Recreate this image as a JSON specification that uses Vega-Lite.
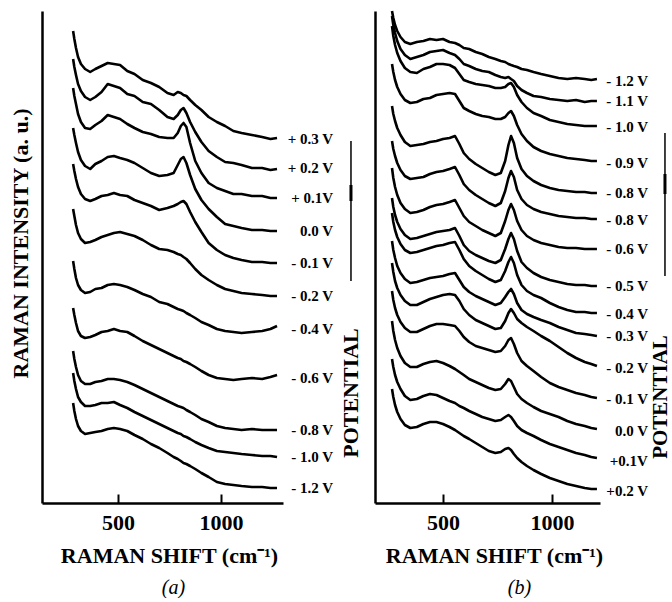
{
"$schema":"https://vega.github.io/schema/vega-lite/v6.json",
"padding":{"left":9,"top":9,"right":0,"bottom":0},
"bounds":"flush",
"spacing":92,
"config":{"view":{"stroke":null},
"axis":{"grid":false,"domainColor":"black","tickColor":"black","labelColor":"black","titleColor":"black","labelFont":"Liberation Serif","titleFont":"Liberation Serif","labelFontWeight":"bold","titleFontWeight":"bold"},
"text":{"font":"Liberation Serif","fontWeight":"bold","color":"black"},
"title":{"font":"Liberation Serif","fontStyle":"italic","fontWeight":"normal","fontSize":20,"color":"black"}},
"datasets":{
"a":[
{"s":1,"x":282,"y":472},{"s":1,"x":288,"y":464},{"s":1,"x":296,"y":455},{"s":1,"x":306,"y":446},{"s":1,"x":320,"y":439},{"s":1,"x":340,"y":434},{"s":1,"x":365,"y":431},{"s":1,"x":390,"y":434},{"s":1,"x":420,"y":437},{"s":1,"x":450,"y":440},{"s":1,"x":480,"y":439},{"s":1,"x":510,"y":438},{"s":1,"x":545,"y":432},{"s":1,"x":580,"y":429},{"s":1,"x":620,"y":423},{"s":1,"x":660,"y":420},{"s":1,"x":700,"y":416},{"s":1,"x":740,"y":410},{"s":1,"x":770,"y":408},{"s":1,"x":790,"y":411},{"s":1,"x":805,"y":410},{"s":1,"x":818,"y":408},{"s":1,"x":832,"y":407},{"s":1,"x":850,"y":403},{"s":1,"x":875,"y":398},{"s":1,"x":905,"y":393},{"s":1,"x":940,"y":386},{"s":1,"x":980,"y":381},{"s":1,"x":1020,"y":377},{"s":1,"x":1060,"y":372},{"s":1,"x":1100,"y":370},{"s":1,"x":1150,"y":368},{"s":1,"x":1200,"y":366},{"s":1,"x":1240,"y":364},{"s":1,"x":1272,"y":365},
{"s":2,"x":282,"y":444},{"s":2,"x":288,"y":436},{"s":2,"x":296,"y":428},{"s":2,"x":306,"y":419},{"s":2,"x":320,"y":412},{"s":2,"x":340,"y":406},{"s":2,"x":365,"y":403},{"s":2,"x":390,"y":406},{"s":2,"x":420,"y":411},{"s":2,"x":450,"y":419},{"s":2,"x":480,"y":417},{"s":2,"x":510,"y":415},{"s":2,"x":545,"y":409},{"s":2,"x":580,"y":407},{"s":2,"x":620,"y":401},{"s":2,"x":660,"y":399},{"s":2,"x":700,"y":393},{"s":2,"x":740,"y":386},{"s":2,"x":770,"y":384},{"s":2,"x":790,"y":388},{"s":2,"x":805,"y":393},{"s":2,"x":818,"y":395},{"s":2,"x":832,"y":390},{"s":2,"x":850,"y":381},{"s":2,"x":875,"y":371},{"s":2,"x":905,"y":361},{"s":2,"x":940,"y":352},{"s":2,"x":980,"y":346},{"s":2,"x":1020,"y":341},{"s":2,"x":1060,"y":340},{"s":2,"x":1100,"y":338},{"s":2,"x":1150,"y":335},{"s":2,"x":1200,"y":335},{"s":2,"x":1240,"y":333},{"s":2,"x":1272,"y":334},
{"s":3,"x":282,"y":415},{"s":3,"x":288,"y":407},{"s":3,"x":296,"y":399},{"s":3,"x":306,"y":389},{"s":3,"x":320,"y":381},{"s":3,"x":340,"y":375},{"s":3,"x":365,"y":374},{"s":3,"x":390,"y":378},{"s":3,"x":420,"y":382},{"s":3,"x":450,"y":388},{"s":3,"x":480,"y":386},{"s":3,"x":510,"y":384},{"s":3,"x":545,"y":379},{"s":3,"x":580,"y":375},{"s":3,"x":620,"y":371},{"s":3,"x":660,"y":369},{"s":3,"x":700,"y":366},{"s":3,"x":740,"y":365},{"s":3,"x":770,"y":365},{"s":3,"x":790,"y":370},{"s":3,"x":805,"y":377},{"s":3,"x":818,"y":380},{"s":3,"x":832,"y":376},{"s":3,"x":850,"y":360},{"s":3,"x":875,"y":342},{"s":3,"x":905,"y":330},{"s":3,"x":940,"y":320},{"s":3,"x":980,"y":315},{"s":3,"x":1020,"y":312},{"s":3,"x":1060,"y":309},{"s":3,"x":1100,"y":309},{"s":3,"x":1150,"y":307},{"s":3,"x":1200,"y":307},{"s":3,"x":1240,"y":305},{"s":3,"x":1272,"y":305},
{"s":4,"x":282,"y":375},{"s":4,"x":288,"y":368},{"s":4,"x":296,"y":360},{"s":4,"x":306,"y":351},{"s":4,"x":320,"y":343},{"s":4,"x":340,"y":337},{"s":4,"x":365,"y":334},{"s":4,"x":390,"y":339},{"s":4,"x":420,"y":342},{"s":4,"x":450,"y":346},{"s":4,"x":480,"y":347},{"s":4,"x":510,"y":345},{"s":4,"x":545,"y":343},{"s":4,"x":580,"y":340},{"s":4,"x":620,"y":335},{"s":4,"x":660,"y":330},{"s":4,"x":700,"y":327},{"s":4,"x":740,"y":328},{"s":4,"x":770,"y":330},{"s":4,"x":790,"y":338},{"s":4,"x":805,"y":344},{"s":4,"x":818,"y":346},{"s":4,"x":832,"y":340},{"s":4,"x":850,"y":328},{"s":4,"x":875,"y":314},{"s":4,"x":905,"y":303},{"s":4,"x":940,"y":294},{"s":4,"x":980,"y":286},{"s":4,"x":1020,"y":279},{"s":4,"x":1060,"y":277},{"s":4,"x":1100,"y":275},{"s":4,"x":1150,"y":273},{"s":4,"x":1200,"y":273},{"s":4,"x":1240,"y":272},{"s":4,"x":1272,"y":272},
{"s":5,"x":282,"y":339},{"s":5,"x":288,"y":332},{"s":5,"x":296,"y":324},{"s":5,"x":306,"y":316},{"s":5,"x":320,"y":309},{"s":5,"x":340,"y":304},{"s":5,"x":365,"y":302},{"s":5,"x":390,"y":304},{"s":5,"x":420,"y":307},{"s":5,"x":450,"y":308},{"s":5,"x":480,"y":310},{"s":5,"x":510,"y":308},{"s":5,"x":545,"y":307},{"s":5,"x":580,"y":303},{"s":5,"x":620,"y":300},{"s":5,"x":660,"y":297},{"s":5,"x":700,"y":293},{"s":5,"x":740,"y":295},{"s":5,"x":770,"y":297},{"s":5,"x":790,"y":299},{"s":5,"x":805,"y":301},{"s":5,"x":818,"y":302},{"s":5,"x":832,"y":299},{"s":5,"x":850,"y":291},{"s":5,"x":875,"y":281},{"s":5,"x":905,"y":271},{"s":5,"x":940,"y":260},{"s":5,"x":980,"y":253},{"s":5,"x":1020,"y":248},{"s":5,"x":1060,"y":245},{"s":5,"x":1100,"y":243},{"s":5,"x":1150,"y":241},{"s":5,"x":1200,"y":241},{"s":5,"x":1240,"y":240},{"s":5,"x":1272,"y":240},
{"s":6,"x":282,"y":294},{"s":6,"x":288,"y":287},{"s":6,"x":296,"y":278},{"s":6,"x":306,"y":270},{"s":6,"x":320,"y":264},{"s":6,"x":340,"y":260},{"s":6,"x":365,"y":261},{"s":6,"x":390,"y":263},{"s":6,"x":420,"y":266},{"s":6,"x":450,"y":268},{"s":6,"x":480,"y":270},{"s":6,"x":510,"y":271},{"s":6,"x":545,"y":269},{"s":6,"x":580,"y":267},{"s":6,"x":620,"y":263},{"s":6,"x":660,"y":258},{"s":6,"x":700,"y":254},{"s":6,"x":740,"y":253},{"s":6,"x":770,"y":251},{"s":6,"x":790,"y":249},{"s":6,"x":805,"y":248},{"s":6,"x":818,"y":246},{"s":6,"x":832,"y":244},{"s":6,"x":850,"y":240},{"s":6,"x":875,"y":234},{"s":6,"x":905,"y":228},{"s":6,"x":940,"y":223},{"s":6,"x":980,"y":218},{"s":6,"x":1020,"y":214},{"s":6,"x":1060,"y":212},{"s":6,"x":1100,"y":210},{"s":6,"x":1150,"y":209},{"s":6,"x":1200,"y":208},{"s":6,"x":1240,"y":207},{"s":6,"x":1272,"y":207},
{"s":7,"x":282,"y":242},{"s":7,"x":288,"y":234},{"s":7,"x":296,"y":225},{"s":7,"x":306,"y":218},{"s":7,"x":320,"y":213},{"s":7,"x":340,"y":210},{"s":7,"x":365,"y":211},{"s":7,"x":390,"y":214},{"s":7,"x":420,"y":215},{"s":7,"x":450,"y":218},{"s":7,"x":480,"y":219},{"s":7,"x":510,"y":218},{"s":7,"x":545,"y":216},{"s":7,"x":580,"y":213},{"s":7,"x":620,"y":209},{"s":7,"x":660,"y":206},{"s":7,"x":700,"y":201},{"s":7,"x":740,"y":199},{"s":7,"x":770,"y":196},{"s":7,"x":790,"y":194},{"s":7,"x":805,"y":193},{"s":7,"x":818,"y":192},{"s":7,"x":832,"y":190},{"s":7,"x":850,"y":188},{"s":7,"x":875,"y":185},{"s":7,"x":905,"y":181},{"s":7,"x":940,"y":178},{"s":7,"x":980,"y":174},{"s":7,"x":1020,"y":172},{"s":7,"x":1060,"y":171},{"s":7,"x":1100,"y":170},{"s":7,"x":1150,"y":171},{"s":7,"x":1200,"y":172},{"s":7,"x":1240,"y":174},{"s":7,"x":1272,"y":177},
{"s":8,"x":282,"y":195},{"s":8,"x":288,"y":188},{"s":8,"x":296,"y":180},{"s":8,"x":306,"y":172},{"s":8,"x":320,"y":167},{"s":8,"x":340,"y":165},{"s":8,"x":365,"y":166},{"s":8,"x":390,"y":168},{"s":8,"x":420,"y":171},{"s":8,"x":450,"y":172},{"s":8,"x":480,"y":174},{"s":8,"x":510,"y":172},{"s":8,"x":545,"y":171},{"s":8,"x":580,"y":167},{"s":8,"x":620,"y":162},{"s":8,"x":660,"y":158},{"s":8,"x":700,"y":154},{"s":8,"x":740,"y":150},{"s":8,"x":770,"y":147},{"s":8,"x":790,"y":145},{"s":8,"x":805,"y":144},{"s":8,"x":818,"y":142},{"s":8,"x":832,"y":141},{"s":8,"x":850,"y":139},{"s":8,"x":875,"y":136},{"s":8,"x":905,"y":132},{"s":8,"x":940,"y":128},{"s":8,"x":980,"y":125},{"s":8,"x":1020,"y":124},{"s":8,"x":1060,"y":123},{"s":8,"x":1100,"y":124},{"s":8,"x":1150,"y":125},{"s":8,"x":1200,"y":124},{"s":8,"x":1240,"y":126},{"s":8,"x":1272,"y":128},
{"s":9,"x":282,"y":152},{"s":9,"x":288,"y":144},{"s":9,"x":296,"y":136},{"s":9,"x":306,"y":128},{"s":9,"x":320,"y":122},{"s":9,"x":340,"y":119},{"s":9,"x":365,"y":119},{"s":9,"x":390,"y":121},{"s":9,"x":420,"y":122},{"s":9,"x":450,"y":124},{"s":9,"x":480,"y":124},{"s":9,"x":510,"y":123},{"s":9,"x":545,"y":121},{"s":9,"x":580,"y":118},{"s":9,"x":620,"y":114},{"s":9,"x":660,"y":110},{"s":9,"x":700,"y":106},{"s":9,"x":740,"y":102},{"s":9,"x":770,"y":99},{"s":9,"x":790,"y":97},{"s":9,"x":805,"y":96},{"s":9,"x":818,"y":95},{"s":9,"x":832,"y":93},{"s":9,"x":850,"y":91},{"s":9,"x":875,"y":88},{"s":9,"x":905,"y":84},{"s":9,"x":940,"y":81},{"s":9,"x":980,"y":77},{"s":9,"x":1020,"y":75},{"s":9,"x":1060,"y":74},{"s":9,"x":1100,"y":73},{"s":9,"x":1150,"y":74},{"s":9,"x":1200,"y":73},{"s":9,"x":1240,"y":73},{"s":9,"x":1272,"y":73},
{"s":10,"x":282,"y":130},{"s":10,"x":288,"y":122},{"s":10,"x":296,"y":114},{"s":10,"x":306,"y":106},{"s":10,"x":320,"y":101},{"s":10,"x":340,"y":97},{"s":10,"x":365,"y":97},{"s":10,"x":390,"y":98},{"s":10,"x":420,"y":100},{"s":10,"x":450,"y":100},{"s":10,"x":480,"y":101},{"s":10,"x":510,"y":98},{"s":10,"x":545,"y":95},{"s":10,"x":580,"y":91},{"s":10,"x":620,"y":87},{"s":10,"x":660,"y":83},{"s":10,"x":700,"y":79},{"s":10,"x":740,"y":75},{"s":10,"x":770,"y":72},{"s":10,"x":790,"y":70},{"s":10,"x":805,"y":69},{"s":10,"x":818,"y":67},{"s":10,"x":832,"y":66},{"s":10,"x":850,"y":64},{"s":10,"x":875,"y":61},{"s":10,"x":905,"y":58},{"s":10,"x":940,"y":55},{"s":10,"x":980,"y":52},{"s":10,"x":1020,"y":51},{"s":10,"x":1060,"y":50},{"s":10,"x":1100,"y":49},{"s":10,"x":1150,"y":48},{"s":10,"x":1200,"y":47},{"s":10,"x":1240,"y":47},{"s":10,"x":1272,"y":46},
{"s":11,"x":282,"y":100},{"s":11,"x":288,"y":92},{"s":11,"x":296,"y":84},{"s":11,"x":306,"y":77},{"s":11,"x":320,"y":72},{"s":11,"x":340,"y":69},{"s":11,"x":365,"y":70},{"s":11,"x":390,"y":71},{"s":11,"x":420,"y":72},{"s":11,"x":450,"y":74},{"s":11,"x":480,"y":75},{"s":11,"x":510,"y":74},{"s":11,"x":545,"y":72},{"s":11,"x":580,"y":68},{"s":11,"x":620,"y":64},{"s":11,"x":660,"y":59},{"s":11,"x":700,"y":55},{"s":11,"x":740,"y":50},{"s":11,"x":770,"y":46},{"s":11,"x":790,"y":44},{"s":11,"x":805,"y":42},{"s":11,"x":818,"y":40},{"s":11,"x":832,"y":39},{"s":11,"x":850,"y":37},{"s":11,"x":875,"y":34},{"s":11,"x":905,"y":30},{"s":11,"x":940,"y":26},{"s":11,"x":980,"y":21},{"s":11,"x":1020,"y":19},{"s":11,"x":1060,"y":18},{"s":11,"x":1100,"y":17},{"s":11,"x":1150,"y":16},{"s":11,"x":1200,"y":16},{"s":11,"x":1240,"y":15},{"s":11,"x":1272,"y":15}
],
"b":[
{"s":1,"x":266,"y":492},{"s":1,"x":272,"y":485},{"s":1,"x":280,"y":478},{"s":1,"x":290,"y":472},{"s":1,"x":305,"y":466},{"s":1,"x":325,"y":461},{"s":1,"x":350,"y":459},{"s":1,"x":380,"y":461},{"s":1,"x":410,"y":462},{"s":1,"x":440,"y":464},{"s":1,"x":470,"y":463},{"s":1,"x":500,"y":464},{"s":1,"x":530,"y":461},{"s":1,"x":555,"y":460},{"s":1,"x":575,"y":458},{"s":1,"x":595,"y":455},{"s":1,"x":620,"y":454},{"s":1,"x":650,"y":451},{"s":1,"x":680,"y":449},{"s":1,"x":710,"y":446},{"s":1,"x":740,"y":444},{"s":1,"x":765,"y":442},{"s":1,"x":785,"y":441},{"s":1,"x":800,"y":439},{"s":1,"x":812,"y":438},{"s":1,"x":825,"y":437},{"s":1,"x":840,"y":436},{"s":1,"x":860,"y":434},{"s":1,"x":885,"y":433},{"s":1,"x":915,"y":431},{"s":1,"x":950,"y":429},{"s":1,"x":990,"y":427},{"s":1,"x":1030,"y":425},{"s":1,"x":1070,"y":424},{"s":1,"x":1110,"y":425},{"s":1,"x":1150,"y":424},{"s":1,"x":1180,"y":423},{"s":1,"x":1206,"y":424},
{"s":2,"x":266,"y":487},{"s":2,"x":272,"y":478},{"s":2,"x":280,"y":470},{"s":2,"x":290,"y":462},{"s":2,"x":305,"y":454},{"s":2,"x":325,"y":448},{"s":2,"x":350,"y":444},{"s":2,"x":380,"y":446},{"s":2,"x":410,"y":448},{"s":2,"x":440,"y":451},{"s":2,"x":470,"y":452},{"s":2,"x":500,"y":453},{"s":2,"x":530,"y":450},{"s":2,"x":555,"y":448},{"s":2,"x":575,"y":444},{"s":2,"x":595,"y":439},{"s":2,"x":620,"y":437},{"s":2,"x":650,"y":434},{"s":2,"x":680,"y":432},{"s":2,"x":710,"y":431},{"s":2,"x":740,"y":428},{"s":2,"x":765,"y":426},{"s":2,"x":785,"y":425},{"s":2,"x":800,"y":426},{"s":2,"x":812,"y":424},{"s":2,"x":825,"y":422},{"s":2,"x":840,"y":417},{"s":2,"x":860,"y":413},{"s":2,"x":885,"y":410},{"s":2,"x":915,"y":407},{"s":2,"x":950,"y":406},{"s":2,"x":990,"y":404},{"s":2,"x":1030,"y":403},{"s":2,"x":1070,"y":402},{"s":2,"x":1110,"y":403},{"s":2,"x":1150,"y":401},{"s":2,"x":1180,"y":402},{"s":2,"x":1206,"y":402},
{"s":3,"x":266,"y":477},{"s":3,"x":272,"y":467},{"s":3,"x":280,"y":458},{"s":3,"x":290,"y":450},{"s":3,"x":305,"y":442},{"s":3,"x":325,"y":435},{"s":3,"x":350,"y":431},{"s":3,"x":380,"y":430},{"s":3,"x":410,"y":434},{"s":3,"x":440,"y":436},{"s":3,"x":470,"y":439},{"s":3,"x":500,"y":439},{"s":3,"x":530,"y":438},{"s":3,"x":555,"y":435},{"s":3,"x":575,"y":429},{"s":3,"x":595,"y":423},{"s":3,"x":620,"y":421},{"s":3,"x":650,"y":419},{"s":3,"x":680,"y":418},{"s":3,"x":710,"y":417},{"s":3,"x":740,"y":415},{"s":3,"x":765,"y":415},{"s":3,"x":785,"y":416},{"s":3,"x":800,"y":419},{"s":3,"x":812,"y":420},{"s":3,"x":825,"y":416},{"s":3,"x":840,"y":408},{"s":3,"x":860,"y":401},{"s":3,"x":885,"y":395},{"s":3,"x":915,"y":390},{"s":3,"x":950,"y":387},{"s":3,"x":990,"y":383},{"s":3,"x":1030,"y":381},{"s":3,"x":1070,"y":379},{"s":3,"x":1110,"y":378},{"s":3,"x":1150,"y":377},{"s":3,"x":1180,"y":377},{"s":3,"x":1206,"y":377},
{"s":4,"x":266,"y":439},{"s":4,"x":272,"y":431},{"s":4,"x":280,"y":423},{"s":4,"x":290,"y":416},{"s":4,"x":305,"y":409},{"s":4,"x":325,"y":403},{"s":4,"x":350,"y":400},{"s":4,"x":380,"y":401},{"s":4,"x":410,"y":404},{"s":4,"x":440,"y":405},{"s":4,"x":470,"y":408},{"s":4,"x":500,"y":409},{"s":4,"x":530,"y":410},{"s":4,"x":555,"y":409},{"s":4,"x":575,"y":402},{"s":4,"x":595,"y":395},{"s":4,"x":620,"y":392},{"s":4,"x":650,"y":389},{"s":4,"x":680,"y":387},{"s":4,"x":710,"y":386},{"s":4,"x":740,"y":384},{"s":4,"x":765,"y":384},{"s":4,"x":785,"y":386},{"s":4,"x":800,"y":390},{"s":4,"x":812,"y":392},{"s":4,"x":825,"y":387},{"s":4,"x":840,"y":378},{"s":4,"x":860,"y":369},{"s":4,"x":885,"y":362},{"s":4,"x":915,"y":356},{"s":4,"x":950,"y":352},{"s":4,"x":990,"y":349},{"s":4,"x":1030,"y":347},{"s":4,"x":1070,"y":345},{"s":4,"x":1110,"y":344},{"s":4,"x":1150,"y":343},{"s":4,"x":1180,"y":342},{"s":4,"x":1206,"y":342},
{"s":5,"x":266,"y":397},{"s":5,"x":272,"y":389},{"s":5,"x":280,"y":382},{"s":5,"x":290,"y":375},{"s":5,"x":305,"y":368},{"s":5,"x":325,"y":361},{"s":5,"x":350,"y":357},{"s":5,"x":380,"y":358},{"s":5,"x":410,"y":359},{"s":5,"x":440,"y":361},{"s":5,"x":470,"y":362},{"s":5,"x":500,"y":364},{"s":5,"x":530,"y":365},{"s":5,"x":555,"y":367},{"s":5,"x":575,"y":359},{"s":5,"x":595,"y":350},{"s":5,"x":620,"y":344},{"s":5,"x":650,"y":339},{"s":5,"x":680,"y":335},{"s":5,"x":710,"y":331},{"s":5,"x":740,"y":328},{"s":5,"x":765,"y":330},{"s":5,"x":785,"y":342},{"s":5,"x":800,"y":358},{"s":5,"x":812,"y":367},{"s":5,"x":825,"y":360},{"s":5,"x":840,"y":345},{"s":5,"x":860,"y":334},{"s":5,"x":885,"y":327},{"s":5,"x":915,"y":322},{"s":5,"x":950,"y":318},{"s":5,"x":990,"y":315},{"s":5,"x":1030,"y":313},{"s":5,"x":1070,"y":312},{"s":5,"x":1110,"y":311},{"s":5,"x":1150,"y":311},{"s":5,"x":1180,"y":310},{"s":5,"x":1206,"y":310},
{"s":6,"x":266,"y":362},{"s":6,"x":272,"y":354},{"s":6,"x":280,"y":347},{"s":6,"x":290,"y":340},{"s":6,"x":305,"y":333},{"s":6,"x":325,"y":327},{"s":6,"x":350,"y":324},{"s":6,"x":380,"y":325},{"s":6,"x":410,"y":326},{"s":6,"x":440,"y":329},{"s":6,"x":470,"y":331},{"s":6,"x":500,"y":332},{"s":6,"x":530,"y":334},{"s":6,"x":555,"y":336},{"s":6,"x":575,"y":328},{"s":6,"x":595,"y":319},{"s":6,"x":620,"y":313},{"s":6,"x":650,"y":308},{"s":6,"x":680,"y":304},{"s":6,"x":710,"y":300},{"s":6,"x":740,"y":297},{"s":6,"x":765,"y":300},{"s":6,"x":785,"y":312},{"s":6,"x":800,"y":325},{"s":6,"x":812,"y":332},{"s":6,"x":825,"y":326},{"s":6,"x":840,"y":313},{"s":6,"x":860,"y":304},{"s":6,"x":885,"y":298},{"s":6,"x":915,"y":294},{"s":6,"x":950,"y":291},{"s":6,"x":990,"y":289},{"s":6,"x":1030,"y":287},{"s":6,"x":1070,"y":286},{"s":6,"x":1110,"y":285},{"s":6,"x":1150,"y":285},{"s":6,"x":1180,"y":284},{"s":6,"x":1206,"y":284},
{"s":7,"x":266,"y":335},{"s":7,"x":272,"y":325},{"s":7,"x":280,"y":316},{"s":7,"x":290,"y":308},{"s":7,"x":305,"y":300},{"s":7,"x":325,"y":294},{"s":7,"x":350,"y":290},{"s":7,"x":380,"y":291},{"s":7,"x":410,"y":293},{"s":7,"x":440,"y":296},{"s":7,"x":470,"y":298},{"s":7,"x":500,"y":299},{"s":7,"x":530,"y":301},{"s":7,"x":555,"y":303},{"s":7,"x":575,"y":295},{"s":7,"x":595,"y":287},{"s":7,"x":620,"y":281},{"s":7,"x":650,"y":277},{"s":7,"x":680,"y":273},{"s":7,"x":710,"y":270},{"s":7,"x":740,"y":267},{"s":7,"x":765,"y":270},{"s":7,"x":785,"y":282},{"s":7,"x":800,"y":293},{"s":7,"x":812,"y":299},{"s":7,"x":825,"y":293},{"s":7,"x":840,"y":282},{"s":7,"x":860,"y":273},{"s":7,"x":885,"y":267},{"s":7,"x":915,"y":263},{"s":7,"x":950,"y":260},{"s":7,"x":990,"y":258},{"s":7,"x":1030,"y":256},{"s":7,"x":1070,"y":255},{"s":7,"x":1110,"y":255},{"s":7,"x":1150,"y":254},{"s":7,"x":1180,"y":254},{"s":7,"x":1206,"y":254},
{"s":8,"x":266,"y":305},{"s":8,"x":272,"y":296},{"s":8,"x":280,"y":288},{"s":8,"x":290,"y":281},{"s":8,"x":305,"y":274},{"s":8,"x":325,"y":268},{"s":8,"x":350,"y":264},{"s":8,"x":380,"y":265},{"s":8,"x":410,"y":267},{"s":8,"x":440,"y":269},{"s":8,"x":470,"y":271},{"s":8,"x":500,"y":272},{"s":8,"x":530,"y":273},{"s":8,"x":555,"y":275},{"s":8,"x":575,"y":267},{"s":8,"x":595,"y":258},{"s":8,"x":620,"y":252},{"s":8,"x":650,"y":248},{"s":8,"x":680,"y":245},{"s":8,"x":710,"y":242},{"s":8,"x":740,"y":240},{"s":8,"x":765,"y":243},{"s":8,"x":785,"y":254},{"s":8,"x":800,"y":264},{"s":8,"x":812,"y":270},{"s":8,"x":825,"y":264},{"s":8,"x":840,"y":252},{"s":8,"x":860,"y":241},{"s":8,"x":885,"y":235},{"s":8,"x":915,"y":230},{"s":8,"x":950,"y":226},{"s":8,"x":990,"y":223},{"s":8,"x":1030,"y":221},{"s":8,"x":1070,"y":219},{"s":8,"x":1110,"y":218},{"s":8,"x":1150,"y":218},{"s":8,"x":1180,"y":217},{"s":8,"x":1206,"y":217},
{"s":9,"x":266,"y":290},{"s":9,"x":272,"y":281},{"s":9,"x":280,"y":273},{"s":9,"x":290,"y":266},{"s":9,"x":305,"y":259},{"s":9,"x":325,"y":253},{"s":9,"x":350,"y":250},{"s":9,"x":380,"y":251},{"s":9,"x":410,"y":253},{"s":9,"x":440,"y":255},{"s":9,"x":470,"y":257},{"s":9,"x":500,"y":258},{"s":9,"x":530,"y":260},{"s":9,"x":555,"y":261},{"s":9,"x":575,"y":253},{"s":9,"x":595,"y":244},{"s":9,"x":620,"y":237},{"s":9,"x":650,"y":232},{"s":9,"x":680,"y":228},{"s":9,"x":710,"y":224},{"s":9,"x":740,"y":221},{"s":9,"x":765,"y":223},{"s":9,"x":785,"y":232},{"s":9,"x":800,"y":241},{"s":9,"x":812,"y":246},{"s":9,"x":825,"y":240},{"s":9,"x":840,"y":228},{"s":9,"x":860,"y":218},{"s":9,"x":885,"y":212},{"s":9,"x":915,"y":208},{"s":9,"x":950,"y":205},{"s":9,"x":990,"y":200},{"s":9,"x":1030,"y":196},{"s":9,"x":1070,"y":193},{"s":9,"x":1110,"y":191},{"s":9,"x":1150,"y":191},{"s":9,"x":1180,"y":190},{"s":9,"x":1206,"y":190},
{"s":10,"x":266,"y":262},{"s":10,"x":272,"y":253},{"s":10,"x":280,"y":245},{"s":10,"x":290,"y":237},{"s":10,"x":305,"y":230},{"s":10,"x":325,"y":224},{"s":10,"x":350,"y":220},{"s":10,"x":380,"y":221},{"s":10,"x":410,"y":223},{"s":10,"x":440,"y":225},{"s":10,"x":470,"y":226},{"s":10,"x":500,"y":227},{"s":10,"x":530,"y":229},{"s":10,"x":555,"y":230},{"s":10,"x":575,"y":223},{"s":10,"x":595,"y":216},{"s":10,"x":620,"y":211},{"s":10,"x":650,"y":207},{"s":10,"x":680,"y":204},{"s":10,"x":710,"y":201},{"s":10,"x":740,"y":198},{"s":10,"x":765,"y":200},{"s":10,"x":785,"y":206},{"s":10,"x":800,"y":211},{"s":10,"x":812,"y":214},{"s":10,"x":825,"y":209},{"s":10,"x":840,"y":200},{"s":10,"x":860,"y":193},{"s":10,"x":885,"y":189},{"s":10,"x":915,"y":186},{"s":10,"x":950,"y":183},{"s":10,"x":990,"y":180},{"s":10,"x":1030,"y":176},{"s":10,"x":1070,"y":173},{"s":10,"x":1110,"y":170},{"s":10,"x":1150,"y":169},{"s":10,"x":1180,"y":168},{"s":10,"x":1206,"y":167},
{"s":11,"x":266,"y":240},{"s":11,"x":272,"y":231},{"s":11,"x":280,"y":222},{"s":11,"x":290,"y":215},{"s":11,"x":305,"y":208},{"s":11,"x":325,"y":202},{"s":11,"x":350,"y":198},{"s":11,"x":380,"y":198},{"s":11,"x":410,"y":201},{"s":11,"x":440,"y":204},{"s":11,"x":470,"y":206},{"s":11,"x":500,"y":208},{"s":11,"x":530,"y":209},{"s":11,"x":555,"y":208},{"s":11,"x":575,"y":202},{"s":11,"x":595,"y":194},{"s":11,"x":620,"y":188},{"s":11,"x":650,"y":183},{"s":11,"x":680,"y":180},{"s":11,"x":710,"y":177},{"s":11,"x":740,"y":174},{"s":11,"x":765,"y":175},{"s":11,"x":785,"y":182},{"s":11,"x":800,"y":190},{"s":11,"x":812,"y":194},{"s":11,"x":825,"y":190},{"s":11,"x":840,"y":184},{"s":11,"x":860,"y":180},{"s":11,"x":885,"y":176},{"s":11,"x":915,"y":172},{"s":11,"x":950,"y":167},{"s":11,"x":990,"y":162},{"s":11,"x":1030,"y":156},{"s":11,"x":1070,"y":150},{"s":11,"x":1110,"y":145},{"s":11,"x":1150,"y":141},{"s":11,"x":1180,"y":139},{"s":11,"x":1206,"y":137},
{"s":12,"x":266,"y":212},{"s":12,"x":272,"y":203},{"s":12,"x":280,"y":195},{"s":12,"x":290,"y":188},{"s":12,"x":305,"y":181},{"s":12,"x":325,"y":175},{"s":12,"x":350,"y":171},{"s":12,"x":380,"y":171},{"s":12,"x":410,"y":174},{"s":12,"x":440,"y":177},{"s":12,"x":470,"y":179},{"s":12,"x":500,"y":179},{"s":12,"x":530,"y":178},{"s":12,"x":555,"y":177},{"s":12,"x":575,"y":172},{"s":12,"x":595,"y":166},{"s":12,"x":620,"y":161},{"s":12,"x":650,"y":157},{"s":12,"x":680,"y":155},{"s":12,"x":710,"y":153},{"s":12,"x":740,"y":151},{"s":12,"x":765,"y":152},{"s":12,"x":785,"y":157},{"s":12,"x":800,"y":163},{"s":12,"x":812,"y":165},{"s":12,"x":825,"y":159},{"s":12,"x":840,"y":150},{"s":12,"x":860,"y":142},{"s":12,"x":885,"y":137},{"s":12,"x":915,"y":132},{"s":12,"x":950,"y":126},{"s":12,"x":990,"y":120},{"s":12,"x":1030,"y":116},{"s":12,"x":1070,"y":113},{"s":12,"x":1110,"y":110},{"s":12,"x":1150,"y":108},{"s":12,"x":1180,"y":106},{"s":12,"x":1206,"y":105},
{"s":13,"x":266,"y":182},{"s":13,"x":272,"y":172},{"s":13,"x":280,"y":163},{"s":13,"x":290,"y":155},{"s":13,"x":305,"y":147},{"s":13,"x":325,"y":140},{"s":13,"x":350,"y":136},{"s":13,"x":380,"y":136},{"s":13,"x":410,"y":139},{"s":13,"x":440,"y":141},{"s":13,"x":470,"y":142},{"s":13,"x":500,"y":140},{"s":13,"x":530,"y":137},{"s":13,"x":555,"y":134},{"s":13,"x":575,"y":131},{"s":13,"x":595,"y":128},{"s":13,"x":620,"y":124},{"s":13,"x":650,"y":121},{"s":13,"x":680,"y":118},{"s":13,"x":710,"y":115},{"s":13,"x":740,"y":113},{"s":13,"x":765,"y":114},{"s":13,"x":785,"y":119},{"s":13,"x":800,"y":124},{"s":13,"x":812,"y":122},{"s":13,"x":825,"y":116},{"s":13,"x":840,"y":109},{"s":13,"x":860,"y":104},{"s":13,"x":885,"y":100},{"s":13,"x":915,"y":96},{"s":13,"x":950,"y":92},{"s":13,"x":990,"y":89},{"s":13,"x":1030,"y":86},{"s":13,"x":1070,"y":82},{"s":13,"x":1110,"y":79},{"s":13,"x":1150,"y":77},{"s":13,"x":1180,"y":75},{"s":13,"x":1206,"y":74},
{"s":14,"x":266,"y":144},{"s":14,"x":272,"y":136},{"s":14,"x":280,"y":128},{"s":14,"x":290,"y":121},{"s":14,"x":305,"y":114},{"s":14,"x":325,"y":107},{"s":14,"x":350,"y":103},{"s":14,"x":380,"y":104},{"s":14,"x":410,"y":107},{"s":14,"x":440,"y":109},{"s":14,"x":470,"y":108},{"s":14,"x":500,"y":105},{"s":14,"x":530,"y":102},{"s":14,"x":555,"y":100},{"s":14,"x":575,"y":97},{"s":14,"x":595,"y":95},{"s":14,"x":620,"y":92},{"s":14,"x":650,"y":89},{"s":14,"x":680,"y":86},{"s":14,"x":710,"y":84},{"s":14,"x":740,"y":82},{"s":14,"x":765,"y":83},{"s":14,"x":785,"y":86},{"s":14,"x":800,"y":88},{"s":14,"x":812,"y":86},{"s":14,"x":825,"y":82},{"s":14,"x":840,"y":77},{"s":14,"x":860,"y":73},{"s":14,"x":885,"y":70},{"s":14,"x":915,"y":67},{"s":14,"x":950,"y":63},{"s":14,"x":990,"y":59},{"s":14,"x":1030,"y":56},{"s":14,"x":1070,"y":53},{"s":14,"x":1110,"y":50},{"s":14,"x":1150,"y":48},{"s":14,"x":1180,"y":46},{"s":14,"x":1206,"y":45},
{"s":15,"x":266,"y":114},{"s":15,"x":272,"y":106},{"s":15,"x":280,"y":98},{"s":15,"x":290,"y":91},{"s":15,"x":305,"y":84},{"s":15,"x":325,"y":78},{"s":15,"x":350,"y":75},{"s":15,"x":380,"y":76},{"s":15,"x":410,"y":79},{"s":15,"x":440,"y":81},{"s":15,"x":470,"y":81},{"s":15,"x":500,"y":79},{"s":15,"x":530,"y":76},{"s":15,"x":555,"y":73},{"s":15,"x":575,"y":70},{"s":15,"x":595,"y":67},{"s":15,"x":620,"y":64},{"s":15,"x":650,"y":60},{"s":15,"x":680,"y":56},{"s":15,"x":710,"y":52},{"s":15,"x":740,"y":50},{"s":15,"x":765,"y":51},{"s":15,"x":785,"y":54},{"s":15,"x":800,"y":55},{"s":15,"x":812,"y":53},{"s":15,"x":825,"y":49},{"s":15,"x":840,"y":45},{"s":15,"x":860,"y":41},{"s":15,"x":885,"y":37},{"s":15,"x":915,"y":33},{"s":15,"x":950,"y":29},{"s":15,"x":990,"y":25},{"s":15,"x":1030,"y":22},{"s":15,"x":1070,"y":19},{"s":15,"x":1110,"y":17},{"s":15,"x":1150,"y":15},{"s":15,"x":1180,"y":14},{"s":15,"x":1206,"y":14}
],
"la":[{"t":"+ 0.3 V","y":364},{"t":"+ 0.2 V","y":335},{"t":"+ 0.1V","y":305},{"t":"0.0 V","y":272},{"t":"- 0.1 V","y":240},{"t":"- 0.2 V","y":207},{"t":"- 0.4 V","y":174},{"t":"- 0.6 V","y":125},{"t":"- 0.8 V","y":73},{"t":"- 1.0 V","y":46},{"t":"- 1.2 V","y":15}],
"lb":[{"t":"- 1.2 V","y":422},{"t":"- 1.1 V","y":402},{"t":"- 1.0 V","y":376},{"t":"- 0.9 V","y":340},{"t":"- 0.8 V","y":310},{"t":"- 0.8 V","y":283},{"t":"- 0.6 V","y":254},{"t":"- 0.5 V","y":217},{"t":"- 0.4 V","y":189},{"t":"- 0.3 V","y":167},{"t":"- 0.2 V","y":135},{"t":"- 0.1 V","y":104},{"t":"0.0 V","y":72},{"t":"+0.1V","y":42},{"t":"+0.2 V","y":12}]
},
"hconcat":[
{"width":241,"height":492,
"title":{"text":"(a)","orient":"bottom","anchor":"middle","dx":11,"offset":12},
"layer":[
{"data":{"name":"a"},"mark":{"type":"line","color":"black","strokeWidth":2.6,"strokeJoin":"round"},
"encoding":{
"x":{"field":"x","type":"quantitative","scale":{"domain":[131,1301],"nice":false,"zero":false},
"axis":{"values":[500,1000],"format":"d","tickSize":-9,"tickWidth":2,"domainWidth":2.5,"labelFontSize":22,"labelPadding":18,"title":"RAMAN SHIFT (cm⁻¹)","titleFontSize":22,"titlePadding":12,"titleX":127}},
"y":{"field":"y","type":"quantitative","scale":{"domain":[0,492],"nice":false},
"axis":{"ticks":false,"labels":false,"domainWidth":2.5,"title":"RAMAN INTENSITY (a. u.)","titleFontSize":22,"titlePadding":10,"titleY":232}},
"detail":{"field":"s"}}},
{"data":{"name":"la"},"mark":{"type":"text","align":"right","baseline":"middle","fontSize":15},
"encoding":{"x":{"datum":1544,"type":"quantitative"},"y":{"field":"y","type":"quantitative"},"text":{"field":"t"}}},
{"data":{"values":[{"t":"POTENTIAL","x":1629,"y":110}]},"mark":{"type":"text","align":"center","baseline":"middle","angle":270,"fontSize":22},
"encoding":{"x":{"field":"x","type":"quantitative"},"y":{"field":"y","type":"quantitative"},"text":{"field":"t"}}},
{"data":{"values":[{"x":1631,"y1":222,"y2":362,"w":1.5},{"x":1631,"y1":302,"y2":318,"w":3}]},"mark":{"type":"rule","color":"black"},
"encoding":{"x":{"field":"x","type":"quantitative"},"y":{"field":"y1","type":"quantitative"},"y2":{"field":"y2"},"strokeWidth":{"field":"w","type":"quantitative","scale":null}}}
]},
{"width":225,"height":492,
"title":{"text":"(b)","orient":"bottom","anchor":"middle","dx":32,"offset":12},
"layer":[
{"data":{"name":"b"},"mark":{"type":"line","color":"black","strokeWidth":2.6,"strokeJoin":"round"},
"encoding":{
"x":{"field":"x","type":"quantitative","scale":{"domain":[188,1220],"nice":false,"zero":false},
"axis":{"values":[500,1000],"format":"d","tickSize":-9,"tickWidth":2,"domainWidth":2.5,"labelFontSize":22,"labelPadding":18,"title":"RAMAN SHIFT (cm⁻¹)","titleFontSize":22,"titlePadding":12,"titleX":119}},
"y":{"field":"y","type":"quantitative","scale":{"domain":[0,492],"nice":false},
"axis":{"ticks":false,"labels":false,"domainWidth":2.5,"title":null}},
"detail":{"field":"s"}}},
{"data":{"name":"lb"},"mark":{"type":"text","align":"right","baseline":"middle","fontSize":15},
"encoding":{"x":{"datum":1440,"type":"quantitative"},"y":{"field":"y","type":"quantitative"},"text":{"field":"t"}}},
{"data":{"values":[{"t":"POTENTIAL","x":1498,"y":106}]},"mark":{"type":"text","align":"center","baseline":"middle","angle":270,"fontSize":21},
"encoding":{"x":{"field":"x","type":"quantitative"},"y":{"field":"y","type":"quantitative"},"text":{"field":"t"}}},
{"data":{"values":[{"x":1518,"y1":227,"y2":370,"w":1.5},{"x":1518,"y1":309,"y2":329,"w":3}]},"mark":{"type":"rule","color":"black"},
"encoding":{"x":{"field":"x","type":"quantitative"},"y":{"field":"y1","type":"quantitative"},"y2":{"field":"y2"},"strokeWidth":{"field":"w","type":"quantitative","scale":null}}}
]}
]
}
